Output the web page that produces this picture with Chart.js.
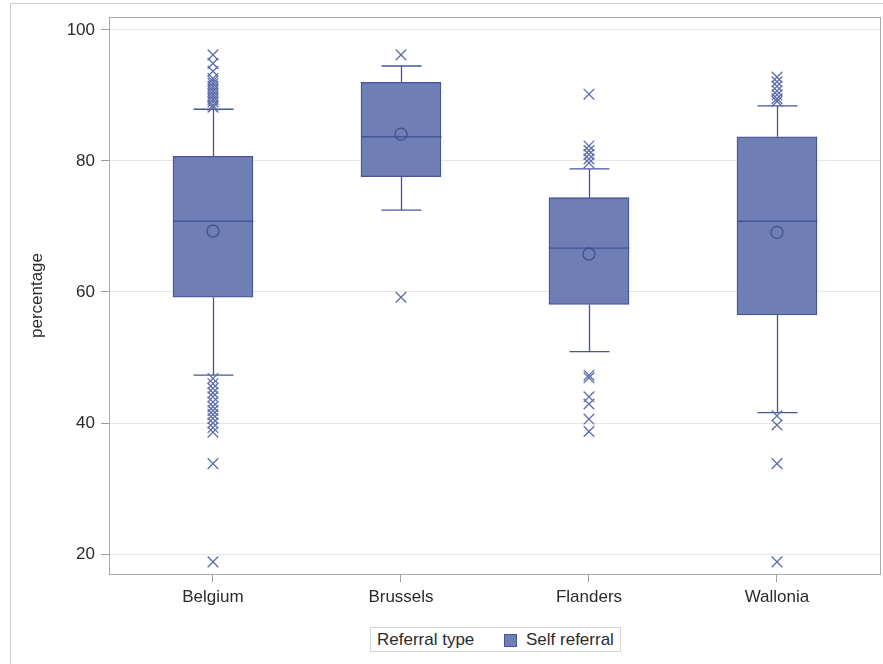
<!DOCTYPE html>
<html>
<head>
<meta charset="utf-8">
<script src="https://cdn.jsdelivr.net/npm/chart.js@4.4.1/dist/chart.umd.min.js"></script>
<style>
  html, body { margin: 0; padding: 0; background: #fff; }
  body { width: 883px; height: 664px; position: relative; overflow: hidden; font-family: "Liberation Sans", Arial, sans-serif; }
  .panel { position: absolute; left: 10px; top: 3px; width: 900px; height: 700px; border: 1px solid #cfcfcf; box-sizing: border-box; }
  #chart { position: absolute; left: 0; top: 0; }
  .legend { position: absolute; left: 370px; top: 627px; width: 251px; height: 25px; border: 1px solid #d4d4d4; box-sizing: border-box; font-size: 17px; color: #2b2b2b; background: #fff; }
  .legend span { position: absolute; top: 0; line-height: 23px; white-space: nowrap; }
  .legend .title { left: 6px; }
  .legend .swatch { left: 133px; top: 6px; width: 11px; height: 11px; background: #6f7eb4; border: 1px solid #44559a; }
  .legend .label { left: 155px; }
</style>
</head>
<body>
<div class="panel"></div>
<canvas id="chart" width="883" height="664"></canvas>
<div class="legend">
  <span class="title">Referral type</span>
  <span class="swatch"></span>
  <span class="label">Self referral</span>
</div>
<script>
// categories and box statistics
const categories = ["Belgium", "Brussels", "Flanders", "Wallonia"];
const q1 = [59.2, 77.6, 58.1, 56.5];
const q3 = [80.7, 92.0, 74.4, 83.7];
const medians = [70.8, 83.7, 66.7, 70.8];
const means = [69.3, 84.1, 65.8, 69.1];
const whiskerLow = [47.3, 72.5, 50.9, 41.6];
const whiskerHigh = [87.9, 94.5, 78.8, 88.4];

// outliers per region
const belgiumOutliers = [96.2, 94.9, 93.7, 92.6, 92.2, 91.8, 91.4, 91.0, 90.6, 90.2, 89.8, 89.4, 89.0, 88.5, 88.2,
  46.8, 46.0, 45.3, 44.6, 44.0, 43.2, 42.5, 41.9, 41.3, 40.7, 40.0, 39.3, 38.6, 33.8, 18.8];
const brusselsOutliers = [96.2, 59.2];
const flandersOutliers = [90.2, 82.3, 81.6, 81.0, 80.3, 79.7, 47.3, 46.9, 44.0, 42.9, 40.6, 38.7];
const walloniaOutliers = [92.8, 92.1, 91.4, 90.7, 90.1, 89.5, 89.1, 41.1, 39.7, 33.8, 18.8];
const outliers = [belgiumOutliers, brusselsOutliers, flandersOutliers, walloniaOutliers];

const yTicks = [20, 40, 60, 80, 100];

const fill = "#6f7eb4";
const edge = "#44559a";
const boxHalf = 40;
const capHalf = 20;

Chart.defaults.font.family = '"Liberation Sans", Arial, sans-serif';
Chart.defaults.font.size = 17;
Chart.defaults.color = "#2b2b2b";

const boxLines = {
  id: "boxLines",
  afterDatasetDraw(chart, args) {
    if (args.index !== 0) return;
    const { ctx, scales: { x, y } } = chart;
    ctx.save();
    ctx.strokeStyle = edge;
    ctx.lineWidth = 1.3;
    categories.forEach((_, i) => {
      const cx = Math.round(x.getPixelForValue(i)) + 0.5;
      const top = y.getPixelForValue(q3[i]);
      const bot = y.getPixelForValue(q1[i]);
      const hi = y.getPixelForValue(whiskerHigh[i]);
      const lo = y.getPixelForValue(whiskerLow[i]);
      const med = y.getPixelForValue(medians[i]);
      ctx.beginPath();
      ctx.moveTo(cx, top); ctx.lineTo(cx, hi);
      ctx.moveTo(cx - capHalf, hi); ctx.lineTo(cx + capHalf, hi);
      ctx.moveTo(cx, bot); ctx.lineTo(cx, lo);
      ctx.moveTo(cx - capHalf, lo); ctx.lineTo(cx + capHalf, lo);
      ctx.moveTo(cx - boxHalf, med); ctx.lineTo(cx + boxHalf, med);
      ctx.stroke();
    });
    ctx.restore();
  },
  afterDraw(chart) {
    const { ctx, chartArea: a } = chart;
    ctx.save();
    ctx.strokeStyle = "#a6aaae";
    ctx.lineWidth = 1;
    ctx.strokeRect(Math.round(a.left) + 0.5, Math.round(a.top) + 0.5, Math.round(a.right - a.left), Math.round(a.bottom - a.top));
    ctx.restore();
  }
};

new Chart(document.getElementById("chart"), {
  type: "bar",
  data: {
    datasets: [
      {
        label: "Self referral",
        data: categories.map((c, i) => ({ x: i, y: [q1[i], q3[i]] })),
        backgroundColor: fill,
        borderColor: edge,
        borderWidth: 1.3,
        borderSkipped: false,
        barThickness: boxHalf * 2,
        grouped: false,
        order: 3
      },
      {
        type: "scatter",
        label: "Outliers",
        data: outliers.flatMap((list, i) => list.map((v) => ({ x: i, y: v }))),
        pointStyle: "crossRot",
        pointRadius: 7.5,
        borderWidth: 1.3,
        borderColor: "#5d6dab",
        order: 2
      },
      {
        type: "scatter",
        label: "Mean",
        data: means.map((v, i) => ({ x: i, y: v })),
        pointStyle: "circle",
        pointRadius: 6,
        borderWidth: 1.3,
        borderColor: "#3f4f8f",
        backgroundColor: "rgba(0,0,0,0)",
        order: 1
      }
    ]
  },
  options: {
    responsive: false,
    animation: false,
    layout: { autoPadding: false, padding: { top: 17, right: 3, left: 0, bottom: 0 } },
    plugins: { legend: { display: false }, tooltip: { enabled: false } },
    scales: {
      x: {
        type: "linear",
        offset: false,
        min: -0.553,
        max: 3.548,
        afterBuildTicks: (axis) => { axis.ticks = categories.map((c, i) => ({ value: i })); },
        afterFit: (axis) => { axis.height = 90; },
        ticks: { padding: 5, color: "#2b2b2b", callback: (v) => categories[v] },
        grid: { offset: false, drawOnChartArea: false, drawTicks: true, tickLength: 8, tickColor: "#9c9c9c" },
        border: { display: false }
      },
      y: {
        min: 16.95,
        max: 101.98,
        afterBuildTicks: (axis) => { axis.ticks = yTicks.map((v) => ({ value: v })); },
        afterFit: (axis) => { axis.width = 109; },
        ticks: { padding: 6, color: "#2b2b2b" },
        grid: { color: "#e6e6e6", tickColor: "#9c9c9c", tickLength: 8 },
        border: { display: false },
        title: { display: true, text: "percentage", padding: { top: 27, bottom: 0 }, color: "#2b2b2b" }
      }
    }
  },
  plugins: [boxLines]
});
</script>
</body>
</html>
